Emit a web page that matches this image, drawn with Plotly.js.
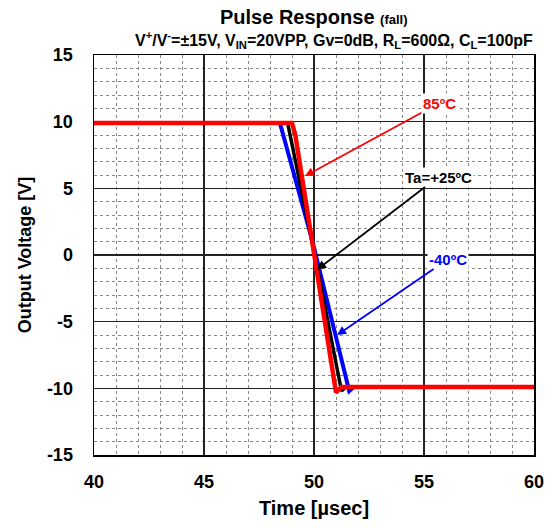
<!DOCTYPE html>
<html><head><meta charset="utf-8">
<script src="https://cdn.plot.ly/plotly-3.0.1.min.js"></script>
<style>html,body{margin:0;padding:0;background:#fff}#chart{width:555px;height:528px}</style>
</head><body><div id="chart"></div>
<script>
// Time [µsec] and output voltage [V] for each temperature
const timeBlue = [40, 48.45, 49.95, 51.6, 51.8, 60];
const voltBlue = [9.9, 9.9, 0.9, -10.2, -9.9, -9.9];
const timeBlack = [40, 48.8, 50.05, 51.25, 51.45, 60];
const voltBlack = [9.9, 9.9, -0.1, -10.2, -9.9, -9.9];
const timeRed = [40, 49.0, 49.15, 50.0, 51.0, 51.25, 60];
const voltRed = [9.9, 9.9, 9.0, 0.3, -10.3, -9.9, -9.9];

const xTickVals = [40, 45, 50, 55, 60];
const xTickText = ['40', '45', '50', '55', '60'];
const yTickVals = [-15, -10, -5, 0, 5, 10, 15];
const yTickText = ['-15', '-10', '-5', '0', '5', '10', '15'];

const labelNames = ['85ºC', 'Ta=+25ºC', '-40ºC'];
const labelColors = ['#ff0000', '#000000', '#0000ff'];
const arrowHeadX = [49.59, 50.14, 51.05];
const arrowHeadY = [5.92, -1.1, -6.0];
const labelX = [55.7, 55.64, 56.1];
const labelY = [11.4, 5.85, -0.3];

const font = 'Arial, "Liberation Sans", sans-serif';
const bold = s => '<b>' + s + '</b>';

const traces = [
  {x: timeBlue, y: voltBlue, mode: 'lines', line: {color: '#0000ff', width: 4}, hoverinfo: 'skip'},
  {x: timeBlack, y: voltBlack, mode: 'lines', line: {color: '#000000', width: 3.5}, hoverinfo: 'skip'},
  {x: timeRed, y: voltRed, mode: 'lines', line: {color: '#ff0000', width: 4.5}, hoverinfo: 'skip'}
];

const annotations = labelNames.map((t, i) => ({
  x: arrowHeadX[i], y: arrowHeadY[i], xref: 'x', yref: 'y',
  ax: labelX[i], ay: labelY[i], axref: 'x', ayref: 'y',
  text: bold(t), showarrow: true,
  arrowhead: 2, arrowsize: 1, arrowwidth: 1.8, arrowcolor: labelColors[i],
  font: {family: font, size: 15, color: labelColors[i]},
  bgcolor: '#ffffff', borderpad: 1
}));
annotations.push({
  xref: 'paper', yref: 'paper', x: 0.5, y: 1, yshift: 38, yanchor: 'middle', showarrow: false,
  text: '<b>Pulse Response <span style="font-size:13px">(fall)</span></b>',
  font: {family: font, size: 20, color: '#000'}
});
annotations.push({
  xref: 'paper', yref: 'paper', x: 0.5, y: 1, xshift: 20, yshift: 15, yanchor: 'middle', showarrow: false,
  text: '<b>V<sup>+</sup>/V<sup>-</sup>=±15V, V<sub>IN</sub>=20VPP, Gv=0dB, R<sub>L</sub>=600Ω, C<sub>L</sub>=100pF</b>',
  font: {family: font, size: 16, color: '#000'}
});

const layout = {
  width: 555, height: 528,
  margin: {l: 94, r: 21, t: 55, b: 73},
  paper_bgcolor: '#fff', plot_bgcolor: '#fff',
  showlegend: false,
  font: {family: font, color: '#000'},
  xaxis: {
    range: [40, 60], tickmode: 'array', tickvals: xTickVals, ticktext: xTickText,
    ticks: '', showline: true, mirror: true,
    linecolor: '#000', linewidth: 1.5, gridcolor: '#222', gridwidth: 1.2, zeroline: false,
    tickfont: {family: font, size: 18, color: '#000', weight: 'bold'},
    ticklabelstandoff: 10,
    minor: {dtick: 1, tick0: 40, showgrid: true, gridcolor: '#888', griddash: 'dot', gridwidth: 1},
    title: {text: 'Time [µsec]', font: {family: font, size: 20, color: '#000', weight: 'bold'}, standoff: 10}
  },
  yaxis: {
    range: [-15, 15], tickmode: 'array', tickvals: yTickVals, ticktext: yTickText,
    ticks: '', showline: true, mirror: true,
    linecolor: '#000', linewidth: 1.5, gridcolor: '#222', gridwidth: 1.2, zeroline: false,
    tickfont: {family: font, size: 18, color: '#000', weight: 'bold'},
    ticklabelstandoff: 16,
    minor: {dtick: 1, tick0: -15, showgrid: true, gridcolor: '#888', griddash: 'dot', gridwidth: 1},
    title: {text: 'Output Voltage [V]', font: {family: font, size: 18, color: '#000', weight: 'bold'}, standoff: 10}
  },
  annotations: annotations
};

Plotly.newPlot('chart', traces, layout, {staticPlot: true, displayModeBar: false});
</script></body></html>
